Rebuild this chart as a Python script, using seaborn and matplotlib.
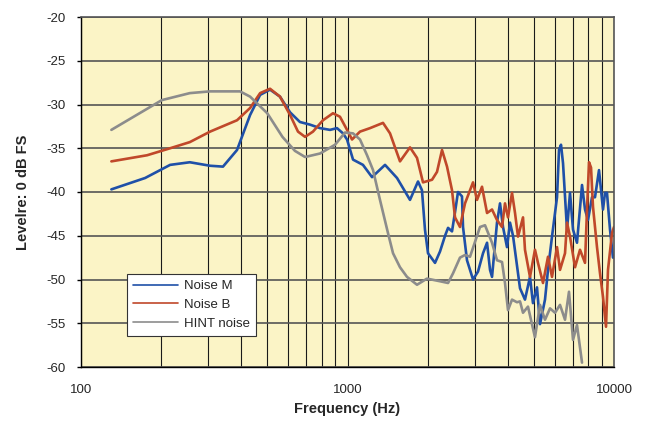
import numpy as np
import pandas as pd
import matplotlib
matplotlib.use('Agg')
import matplotlib.pyplot as plt
import matplotlib.ticker as mticker
import seaborn as sns

# ---- dados (Hz, dB FS) ----
freq_m = [130, 174, 216, 256, 305, 341, 385, 431, 470, 512, 558, 609, 663, 723, 789,
          860, 913, 962, 996, 1049, 1143, 1236, 1383, 1534, 1716, 1839, 1903, 1953, 2005,
          2130, 2224, 2323, 2384, 2467, 2532, 2598, 2689, 2713, 2808, 2958, 3088, 3225,
          3339, 3426, 3486, 3639, 3735, 3833, 3967, 4072, 4179, 4439, 4634, 4839, 4966,
          5141, 5276, 5509, 5654, 5853, 6112, 6218, 6326, 6437, 6549, 6663, 6838, 7018,
          7263, 7586, 7785, 7989, 8269, 8486, 8785, 9094, 9252, 9413, 9661, 9913]
level_m = [-39.7, -38.4, -36.9, -36.6, -37.0, -37.1, -35.2, -31.2, -28.9, -28.3, -29.1,
           -30.9, -32.0, -32.3, -32.7, -32.9, -32.7, -33.3, -34.0, -36.3, -36.9, -38.3,
           -36.9, -38.4, -40.9, -38.8, -39.8, -44.3, -47.0, -48.1, -46.8, -45.0, -44.1,
           -44.5, -42.3, -40.0, -40.5, -44.0, -47.8, -50.0, -49.1, -47.0, -45.8, -48.9,
           -49.7, -43.5, -41.3, -44.0, -46.3, -43.5, -45.0, -51.0, -52.3, -49.7, -52.7,
           -50.9, -55.1, -52.3, -48.9, -45.1, -40.6, -35.2, -34.6, -36.7, -40.5, -44.3,
           -40.1, -44.3, -45.8, -39.2, -42.0, -43.2, -40.6, -40.6, -37.5, -42.0, -40.1,
           -40.1, -44.3, -47.5]

freq_b = [130, 177, 216, 256, 305, 385, 431, 470, 512, 558, 609, 652, 693, 742, 809,
          882, 937, 996, 1040, 1114, 1215, 1359, 1444, 1574, 1716, 1823, 1920, 2076,
          2167, 2263, 2363, 2467, 2532, 2643, 2760, 2958, 3062, 3197, 3339, 3486, 3639,
          3800, 3899, 4002, 4143, 4252, 4363, 4556, 4634, 4839, 5052, 5185, 5415, 5654,
          5853, 6112, 6272, 6549, 6663, 6838, 7141, 7455, 7785, 7920, 8060, 8199, 8341,
          8634, 8862, 9094, 9333, 9495, 9829, 10000]
level_b = [-36.5, -35.8, -35.0, -34.3, -33.1, -31.8, -30.4, -28.7, -28.2, -29.1, -31.2,
           -33.1, -33.7, -33.1, -31.8, -31.0, -31.4, -32.9, -34.0, -33.1, -32.7, -32.1,
           -33.3, -36.5, -34.9, -36.1, -38.9, -38.6, -37.7, -35.2, -37.1, -39.8, -42.9,
           -44.0, -41.3, -38.9, -40.9, -39.4, -42.4, -42.0, -43.2, -44.0, -41.3, -42.9,
           -40.1, -42.4, -45.1, -42.9, -46.6, -49.7, -46.6, -48.1, -50.4, -47.4, -49.7,
           -46.3, -48.9, -47.0, -43.5, -45.1, -48.6, -46.6, -48.1, -42.0, -36.6, -37.2,
           -41.7, -46.3, -49.3, -52.0, -55.4, -48.9, -44.7, -44.0]

freq_h = [130, 201, 256, 305, 395, 431, 500, 570, 635, 693, 789, 898, 979, 1049, 1114,
          1184, 1247, 1324, 1419, 1482, 1574, 1672, 1823, 1987, 2224, 2384, 2488, 2643,
          2760, 2882, 3142, 3281, 3486, 3639, 3800, 3899, 4002, 4143, 4325, 4439, 4556,
          4756, 5052, 5276, 5509, 5753, 6007, 6272, 6549, 6779, 7018, 7263, 7586]
level_h = [-32.9, -29.5, -28.7, -28.5, -28.5, -29.1, -31.0, -33.7, -35.3, -36.0, -35.6,
           -34.6, -33.2, -33.3, -34.0, -35.8, -37.5, -40.9, -44.7, -47.0, -48.6, -49.7,
           -50.6, -49.9, -50.2, -50.4, -49.3, -47.5, -47.2, -47.4, -44.0, -43.8, -45.8,
           -47.8, -48.0, -50.4, -53.5, -52.3, -52.6, -52.5, -53.8, -53.1, -56.6, -52.9,
           -54.6, -53.3, -53.8, -52.9, -54.6, -51.4, -56.9, -55.2, -59.5]

series = ['Noise M', 'Noise B', 'HINT noise']
cores = ['#1f50a8', '#c0482a', '#8c8c8c']
y_ticks = [-20, -25, -30, -35, -40, -45, -50, -55, -60]

df = pd.concat([
    pd.DataFrame({'freq': freq_m, 'level': level_m, 'serie': series[0]}),
    pd.DataFrame({'freq': freq_b, 'level': level_b, 'serie': series[1]}),
    pd.DataFrame({'freq': freq_h, 'level': level_h, 'serie': series[2]}),
], ignore_index=True)

sns.set_theme(style='ticks')
plt.rcParams['font.family'] = ['Liberation Sans', 'DejaVu Sans']
plt.rcParams['axes.unicode_minus'] = False

fig = plt.figure(figsize=(6.49, 4.22), dpi=100)
ax = fig.add_axes([81 / 649, 55 / 422, 533 / 649, 350 / 422])
ax.set_facecolor('#fbf4c6')

sns.lineplot(data=df, x='freq', y='level', hue='serie', hue_order=series,
             palette=cores, estimator=None, sort=False, linewidth=1.9, ax=ax)

ax.set_xscale('log')
ax.set_xlim(100, 10000)
ax.set_ylim(-60, -20)
ax.set_yticks(y_ticks)
ax.xaxis.set_major_locator(mticker.FixedLocator([100, 1000, 10000]))
ax.xaxis.set_major_formatter(mticker.FixedFormatter(['100', '1000', '10000']))
ax.xaxis.set_minor_locator(mticker.LogLocator(base=10, subs=np.arange(2, 10)))
ax.xaxis.set_minor_formatter(mticker.NullFormatter())

# grade
ax.grid(True, axis='x', which='both', color='#1a1a1a', linewidth=0.8)
ax.grid(True, axis='y', which='major', color='#555555', linewidth=1.2)
ax.set_axisbelow(True)

ax.tick_params(axis='x', which='both', length=0, pad=12, labelsize=9.5)
ax.tick_params(axis='y', length=3, width=1, color='black', pad=8, labelsize=9.5)

for lado in ['left', 'bottom']:
    ax.spines[lado].set_color('black')
    ax.spines[lado].set_linewidth(1.0)
for lado in ['top', 'right']:
    ax.spines[lado].set_color('#555555')
    ax.spines[lado].set_linewidth(1.2)

ax.set_xlabel('Frequency (Hz)', fontsize=10.5, fontweight='bold')
ax.set_ylabel('Levelre: 0 dB FS', fontsize=10.5, fontweight='bold')
ax.xaxis.set_label_coords(0.5, -0.1)
ax.yaxis.set_label_coords(-0.095, 0.5)

leg = ax.legend(loc='lower left', bbox_to_anchor=(0.086, 0.089), borderaxespad=0,
                fontsize=9.5, handlelength=3.4, frameon=True, fancybox=False,
                borderpad=0.45, labelspacing=0.5, handletextpad=0.5)
leg.get_frame().set_edgecolor('#333333')
leg.get_frame().set_linewidth(0.8)
leg.get_frame().set_facecolor('white')
leg.get_frame().set_alpha(1)
for linha in leg.get_lines():
    linha.set_linewidth(1.2)

fig.savefig('out.png', dpi=100)
